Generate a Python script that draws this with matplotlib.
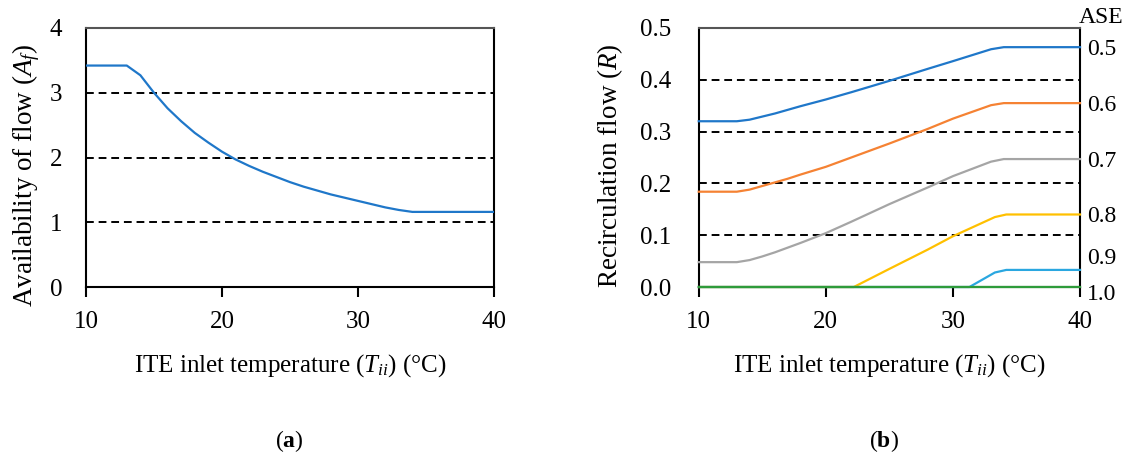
import matplotlib
matplotlib.use("Agg")
from matplotlib import pyplot as plt
from matplotlib.transforms import ScaledTranslation

plt.rcParams['font.family'] = ['Liberation Serif', 'DejaVu Serif']
plt.rcParams['mathtext.fontset'] = 'custom'
plt.rcParams['mathtext.rm'] = 'Liberation Serif'
plt.rcParams['mathtext.it'] = 'Liberation Serif:italic'
plt.rcParams['mathtext.bf'] = 'Liberation Serif:bold'

#Panel (a): availability of flow
temp_a = [10, 13, 14, 15, 16, 17, 18, 19, 20, 21, 22, 23, 24, 25, 26, 27,
          28, 29, 30, 31, 32, 33, 34, 40]
avail = [3.42, 3.42, 3.27, 3.0, 2.76, 2.56, 2.38, 2.23, 2.09, 1.97, 1.87, 1.78,
         1.70, 1.62, 1.55, 1.49, 1.43, 1.38, 1.33, 1.28, 1.23, 1.19, 1.16, 1.16]

#Panel (b): recirculation flow for each ASE value
ase_labels = ["0.5", "0.6", "0.7", "0.8", "0.9", "1.0"]
ase_colors = ["#1F77C9", "#F58233", "#A5A5A5", "#FFC000", "#2AA7E0", "#2E9B3A"]

temp_05 = [10, 13, 14, 15, 16, 17, 18, 20, 22, 25, 28, 30, 33, 34, 40]
rec_05 = [0.320, 0.320, 0.323, 0.329, 0.335, 0.342, 0.349, 0.362, 0.376, 0.398,
          0.421, 0.436, 0.459, 0.463, 0.463]
rec_06 = [0.184, 0.184, 0.188, 0.195, 0.202, 0.209, 0.217, 0.232, 0.250, 0.277,
          0.305, 0.325, 0.351, 0.355, 0.355]
rec_07 = [0.048, 0.048, 0.052, 0.059, 0.067, 0.076, 0.085, 0.104, 0.126, 0.160,
          0.192, 0.214, 0.242, 0.247, 0.247]
temp_08 = [10, 22.2, 25, 28, 30, 33.3, 34.2, 40]
rec_08 = [0.0, 0.0, 0.035, 0.072, 0.098, 0.135, 0.140, 0.140]
temp_09 = [10, 31.3, 33.3, 34.2, 40]
rec_09 = [0.0, 0.0, 0.028, 0.033, 0.033]
temp_10 = [10, 40]
rec_10 = [0.0, 0.0]

series_b = [(temp_05, rec_05), (temp_05, rec_06), (temp_05, rec_07),
            (temp_08, rec_08), (temp_09, rec_09), (temp_10, rec_10)]

fs_tick = 18
fs_lab = 18
fig = plt.figure(figsize=(11.27, 4.59), dpi=100)
ax1 = fig.add_axes([0.0763, 0.3747, 0.362, 0.5643])
ax2 = fig.add_axes([0.620, 0.3747, 0.3383, 0.5643])

xlabel = r"ITE inlet temperature ($T_{ii}$) (°C)"

#Graph (a)
ax1.plot(temp_a, avail, color="#1F77C9", lw=1.6, zorder=3)
for yv in [1, 2, 3, 4]:
    ax1.axhline(yv, color="black", ls=(0, (4, 2.5)), lw=1.4, zorder=2)
ax1.set_xlim(10, 40)
ax1.set_ylim(0, 4)
ax1.set_xticks([10, 20, 30, 40])
ax1.set_yticks([0, 1, 2, 3, 4])
ax1.tick_params(axis='y', length=0, pad=17, labelsize=fs_tick)
ax1.tick_params(axis='x', length=7, width=1.5, pad=10, labelsize=fs_tick)
ax1.set_xlabel(xlabel, fontsize=fs_lab, labelpad=14)
ax1.set_ylabel(r"Availability of flow ($A_f$)", fontsize=19.5)
ax1.yaxis.set_label_coords(-0.108, 0.43)
for sp in ax1.spines.values():
    sp.set_linewidth(1.5)
ax1.spines['top'].set_color("#555555")

#Graph (b)
for (tx, ry), col in zip(series_b, ase_colors):
    ax2.plot(tx, ry, color=col, lw=1.6, zorder=3, clip_on=False)
for yv in [0.1, 0.2, 0.3, 0.4, 0.5]:
    ax2.axhline(yv, color="black", ls=(0, (4, 2.5)), lw=1.4, zorder=2)
ax2.set_xlim(10, 40)
ax2.set_ylim(0, 0.5)
ax2.set_xticks([10, 20, 30, 40])
ax2.set_yticks([0, 0.1, 0.2, 0.3, 0.4, 0.5])
ax2.set_yticklabels(["0.0", "0.1", "0.2", "0.3", "0.4", "0.5"])
ax2.tick_params(axis='y', length=0, pad=20, labelsize=fs_tick)
ax2.tick_params(axis='x', length=7, width=1.5, pad=10, labelsize=fs_tick)
ax2.set_xlabel(xlabel, fontsize=fs_lab, labelpad=14)
ax2.set_ylabel(r"Recirculation flow ($R$)", fontsize=19.5)
ax2.yaxis.set_label_coords(-0.193, 0.47)
for sp in ax2.spines.values():
    sp.set_linewidth(1.5)
ax2.spines['top'].set_color("#555555")

#ASE labels on the right, placed at each curve's end value
axr = ax2.twinx()
axr.set_ylim(0, 0.5)
axr.set_yticks([ry[-1] for _, ry in series_b])
axr.set_yticklabels(ase_labels)
axr.tick_params(axis='y', length=0, pad=5, labelsize=17)
for sp in axr.spines.values():
    sp.set_visible(False)
#nudge the two bottom labels apart so they do not collide
shifts = {"0.9": 10, "1.0": -3.5}
for lbl in axr.get_yticklabels():
    dy = shifts.get(lbl.get_text(), 0)
    if dy:
        lbl.set_transform(lbl.get_transform() +
                          ScaledTranslation(0, dy / 72, fig.dpi_scale_trans))
ax2.text(1.055, 1.0, "ASE", transform=ax2.transAxes, fontsize=17,
         ha='center', va='bottom')

#Panel captions
fig.text(0.257, 0.025, r"($\mathbf{a}$)", fontsize=17, ha='center')
fig.text(0.784, 0.025, r"($\mathbf{b}$)", fontsize=17, ha='center')

fig.savefig("out.png", dpi=100)
